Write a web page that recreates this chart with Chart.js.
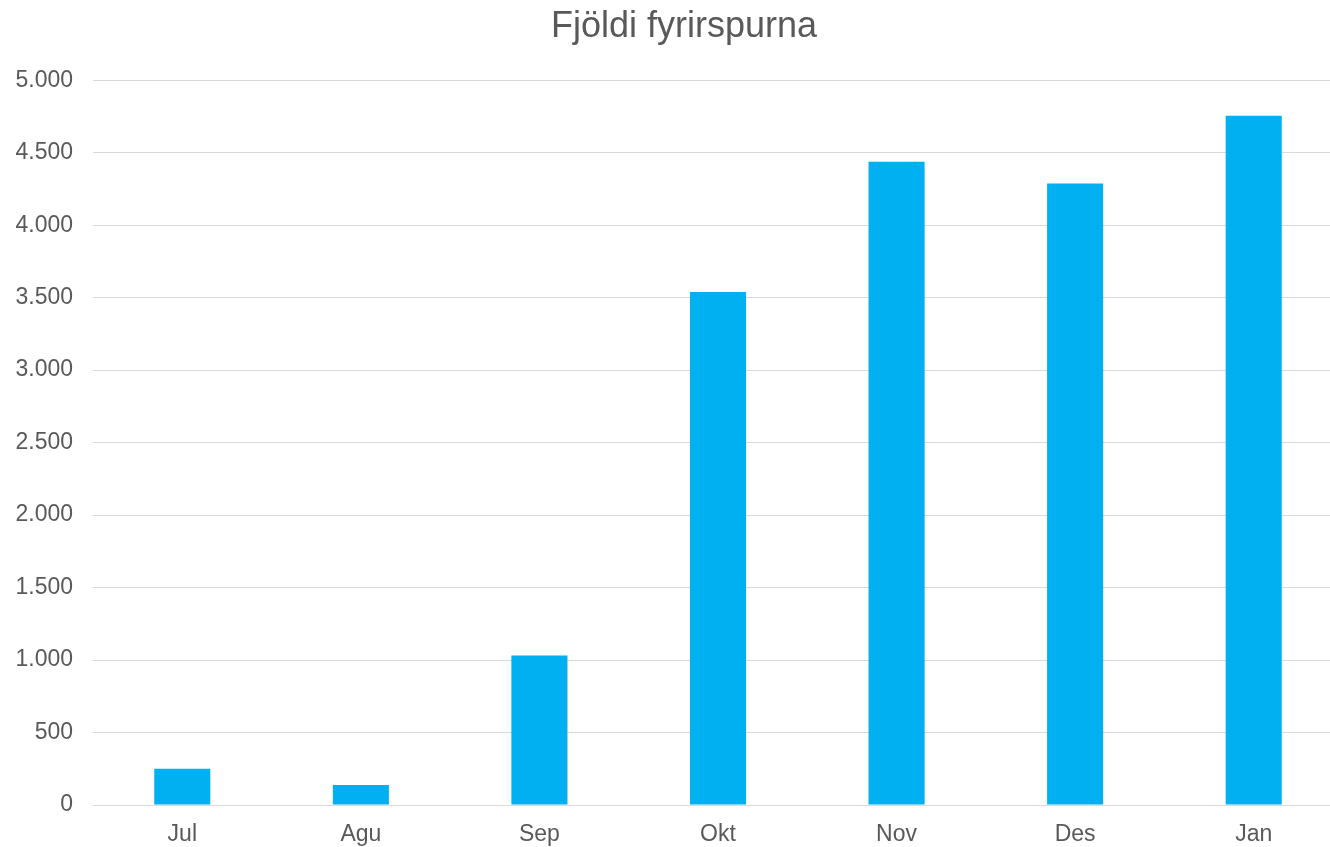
<!DOCTYPE html>
<html>
<head>
<meta charset="utf-8">
<script src="https://cdn.jsdelivr.net/npm/chart.js@4"></script>
<style>
  html, body { margin: 0; padding: 0; background: #fff; overflow: hidden; }
  #wrap { width: 1368px; height: 847px; }
</style>
</head>
<body>
<div id="wrap"><canvas id="chart"></canvas></div>
<script>
// Fjöldi fyrirspurna eftir mánuðum
let months = ['Jul', 'Agu', 'Sep', 'Okt', 'Nov', 'Des', 'Jan'];
let requests = [250, 138, 1032, 3539, 4438, 4288, 4755];

let textColor = '#595959';

const ctx = document.getElementById('chart');

new Chart(ctx, {
    type: 'bar',
    data: {
        labels: months,
        datasets: [{
            label: 'Fjöldi fyrirspurna',
            data: requests,
            backgroundColor: '#00B0F0',
            barPercentage: 1,
            categoryPercentage: 0.314
        }]
    },
    options: {
        responsive: true,
        maintainAspectRatio: false,
        animation: false,
        layout: { padding: 0 },
        plugins: {
            legend: { display: false },
            tooltip: { enabled: false },
            title: {
                display: true,
                text: 'Fjöldi fyrirspurna',
                color: textColor,
                font: { family: 'Liberation Sans, Arial, sans-serif', size: 36, weight: 'normal' },
                padding: { top: 5, bottom: 32 }
            }
        },
        scales: {
            x: {
                grid: { display: false, drawTicks: false },
                border: { color: '#d9d9d9', width: 1 },
                ticks: {
                    color: textColor,
                    padding: 16,
                    font: { family: 'Liberation Sans, Arial, sans-serif', size: 23 }
                },
                afterFit: function (scale) { scale.height = 42; }
            },
            y: {
                min: 0,
                max: 5000,
                grid: { color: '#d9d9d9', lineWidth: 1, drawTicks: false },
                border: { display: false },
                ticks: {
                    stepSize: 500,
                    color: textColor,
                    padding: 20,
                    font: { family: 'Liberation Sans, Arial, sans-serif', size: 23 },
                    callback: function (v) {
                        return v.toString().replace(/\B(?=(\d{3})+(?!\d))/g, '.');
                    }
                },
                afterFit: function (scale) { scale.width = 93; }
            },
            // tómur ás hægra megin, bara til að hliðra titlinum
            yRight: {
                position: 'right',
                min: 0,
                max: 5000,
                grid: { display: false, drawTicks: false },
                border: { display: false },
                ticks: { display: false },
                afterFit: function (scale) { scale.width = 25; }
            }
        }
    }
});
</script>
</body>
</html>
